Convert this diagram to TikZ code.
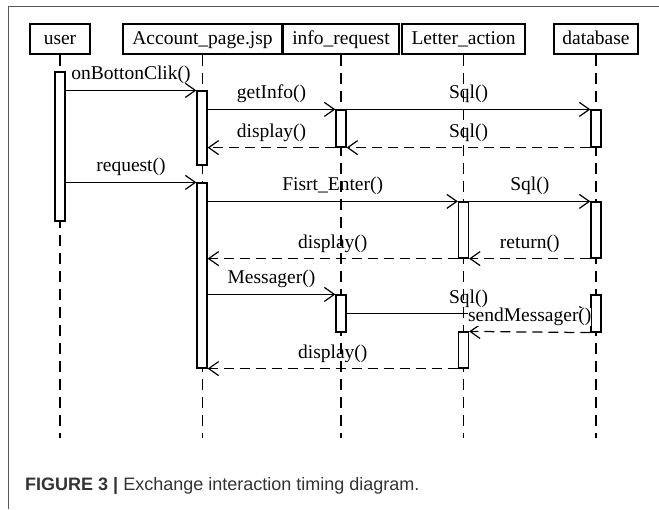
\documentclass[tikz,border=0pt]{standalone}
\usepackage{fontspec}
\setmainfont{Liberation Serif}
\newfontfamily\capfont{Liberation Sans}
\usetikzlibrary{arrows.meta}

\begin{document}
\begin{tikzpicture}[
        x=1pt, y=-1pt,
        font=\fontsize{19.5}{22}\selectfont,
        head/.style={rectangle, draw, line width=1.6pt, minimum height=30pt, inner sep=0pt, text height=13.5pt, text depth=3.5pt},
        act/.style={rectangle, draw, line width=1.2pt, fill=white, minimum width=10pt, inner sep=0pt},
        life/.style={dash pattern=on 11pt off 7pt, line width=1.25pt},
        msg/.style={-{Straight Barb[length=10pt,width=14pt,line width=1.2pt]}, line width=1.25pt},
        ret/.style={msg, dash pattern=on 10pt off 6pt},
        msg_label/.style={midway, anchor=base, yshift=10.5pt, inner sep=0pt}
    ]
        \useasboundingbox (0,0) rectangle (659,509);

        % Frame
        \draw[black!65, line width=1pt] (8,509) -- (8,6) -- (659,6);

        % Object heads
        \node[head, minimum width=60pt] (user) at (60,39) {user};
        \node[head, minimum width=159pt] (account) at (202.5,39) {Account\_page.jsp};
        \node[head, minimum width=116pt] (info) at (341,39) {info\_request};
        \node[head, minimum width=123pt] (letter) at (463.5,39) {Letter\_action};
        \node[head, minimum width=84pt] (database) at (596,39) {database};

        % Lifelines
        \foreach \obj in {user, account, info, letter, database}
            \draw[life] (\obj.south) -- (\obj |- 0,438);

        % Activation bars
        \node[act, minimum height=149pt] (uAct) at (60,146.5) {};
        \node[act, minimum height=74pt] (acc1) at (202,128) {};
        \node[act, minimum height=185pt] (acc2) at (202,275.5) {};
        \node[act, minimum height=37pt] (inf1) at (341,128.5) {};
        \node[act, minimum height=37pt] (db1) at (596,128.5) {};
        \node[act, minimum height=56pt] (let1) at (463.5,230) {};
        \node[act, minimum height=56pt] (db2) at (596,230) {};
        \node[act, minimum height=37pt] (inf2) at (341,313.5) {};
        \node[act, minimum height=37pt] (db3) at (596,313.5) {};
        \node[act, minimum height=36pt] (let2) at (463.5,350) {};

        % First request
        \draw[msg] (uAct.east |- acc1.north) -- (acc1.north west) node[msg_label] {onBottonClik()};
        \draw[msg] (acc1.east |- inf1.north) -- (inf1.north west) node[msg_label] {getInfo()};
        \draw[msg] (inf1.north east) -- (db1.north west) node[msg_label] {Sql()};
        \draw[ret] (db1.south west) -- (inf1.south east) node[msg_label] {Sql()};
        \draw[ret] (inf1.south west) -- (acc1.east |- inf1.south) node[msg_label] {display()};

        % Second request
        \draw[msg] (uAct.east |- acc2.north) -- (acc2.north west) node[msg_label] {request()};
        \draw[msg] (acc2.east |- let1.north) -- (let1.north west) node[msg_label] {Fisrt\_Enter()};
        \draw[msg] (let1.north east) -- (db2.north west) node[msg_label] {Sql()};
        \draw[ret] (db2.south west) -- (let1.south east) node[msg_label] {return()};
        \draw[ret] (let1.south west) -- (acc2.east |- let1.south) node[msg_label] {display()};

        % Messages
        \draw[msg] (acc2.east |- inf2.north) -- (inf2.north west) node[msg_label] {Messager()};
        \draw[msg] (inf2.east) -- (db3.west) node[msg_label] {Sql()};
        \draw[ret] (db3.south west) -- (let2.north east) node[msg_label, fill=white] {sendMessager()};
        \draw[ret] (let2.south west) -- (acc2.south east) node[msg_label] {display()};

        % Caption
        \node[anchor=west, inner sep=0pt, text=black!80, font=\capfont\fontsize{18}{20}\selectfont] (caption) at (25,486)
            {\textbf{FIGURE 3 |} Exchange interaction timing diagram.};
    \end{tikzpicture}
\end{document}
